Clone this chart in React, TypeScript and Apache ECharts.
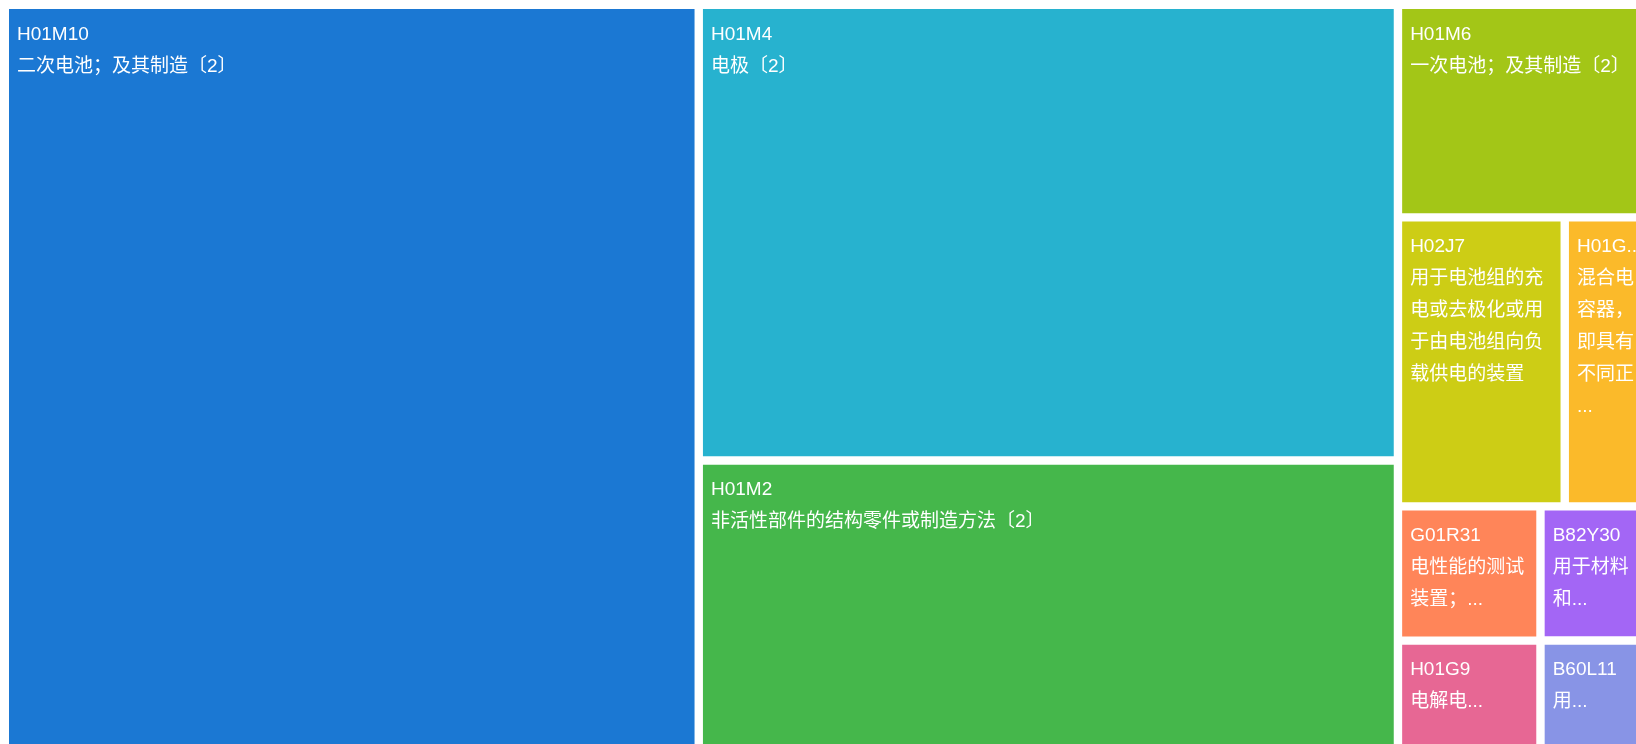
import React, { useEffect, useRef } from "react";
import * as echarts from "echarts";

// IPC group codes (node names), in descending order of value
const codes = ["H01M10", "H01M4", "H01M2", "H01M6", "H02J7", "H01G11", "G01R31", "H01G9", "B82Y30", "B60L11"];

// Descriptions as they are displayed under each code
const descriptions = [
  "二次电池；及其制造〔2〕",
  "电极〔2〕",
  "非活性部件的结构零件或制造方法〔2〕",
  "一次电池；及其制造〔2〕",
  "用于电池组的充\n电或去极化或用\n于由电池组向负\n载供电的装置",
  "混合电\n容器，\n即具有\n不同正\n...",
  "电性能的测试\n装置；...",
  "电解电...",
  "用于材料\n和...",
  "用...",
];

// Estimated values (read from the relative areas)
const values = [765.0, 468.1, 302.7, 81.6, 70.8, 40.1, 28.1, 24.0, 23.4, 20.0];

const colors = ["#1b78d3", "#27b2cf", "#45b74b", "#a3c617", "#cdcd15", "#fbba2a", "#ff8559", "#e76794", "#a366f5", "#8894e6"];

export default function App() {
  const ref = useRef<HTMLDivElement>(null);
  useEffect(() => {
    document.documentElement.style.overflow = "hidden";
    const chart = echarts.init(ref.current as HTMLDivElement, undefined, { renderer: "svg" });
    chart.setOption({
      animation: false,
      series: [
        {
          type: "treemap",
          left: 0,
          top: 0,
          right: 0,
          bottom: 0,
          roam: false,
          nodeClick: false,
          breadcrumb: { show: false },
          label: {
            show: true,
            position: "insideTopLeft",
            distance: 0,
            padding: 8,
            color: "#fff",
            fontSize: 19,
            lineHeight: 32,
            fontFamily: "'Liberation Sans', 'Noto Sans CJK SC', sans-serif",
            overflow: "truncate",
            formatter: (p: any) => `${p.name}\n${p.data.desc}`,
          },
          levels: [
            { itemStyle: { borderWidth: 0, gapWidth: 6.4, borderColor: "#fff" } },
            { itemStyle: { borderWidth: 1, gapWidth: 0, borderColor: "#fff" } },
          ],
          data: codes.map((c, i) => ({
            name: c,
            value: values[i],
            desc: descriptions[i],
            itemStyle: { color: colors[i] },
          })),
        },
      ],
    });
    return () => chart.dispose();
  }, []);
  return (
    <div
      ref={ref}
      style={{ position: "fixed", left: 8, top: 8, width: 1648, height: 744 }}
    />
  );
}
